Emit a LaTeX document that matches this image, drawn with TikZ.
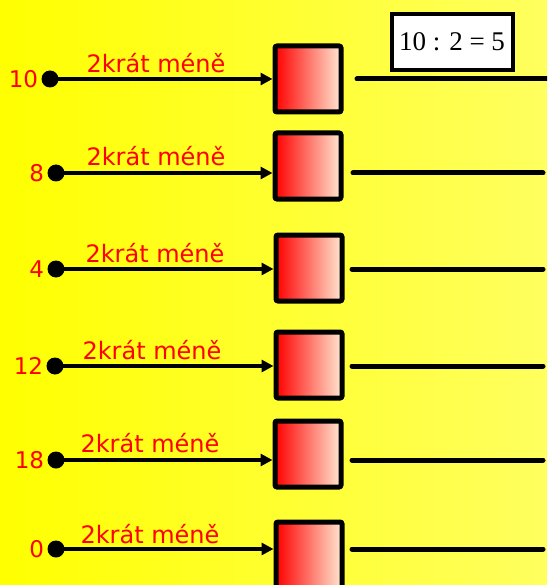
\documentclass[tikz,border=0pt]{standalone}
\usepackage{fontspec}
\setmainfont{DejaVu Sans}
\newfontfamily\eqfont{Liberation Serif}
\usetikzlibrary{arrows.meta}
\definecolor{bgright}{RGB}{255,255,95}
\definecolor{peach}{RGB}{255,232,210}
\definecolor{lblred}{RGB}{255,0,0}
\tikzset{
  dotnode/.style={circle,fill=black,inner sep=0pt,minimum size=17pt},
  numlbl/.style={text=lblred,font=\fontsize{23}{23}\selectfont,inner sep=0pt},
  opbox/.style={draw=black,line width=5pt,rounded corners=2pt,minimum width=66pt,minimum height=66pt,
    inner sep=0pt,left color=red,right color=peach},
  arrowline/.style={line width=4pt,-{Triangle[length=12pt,width=12pt]}},
  oplbl/.style={text=lblred,font=\fontsize{24}{24}\selectfont,inner sep=0pt,anchor=base},
  ansline/.style={line width=5pt,line cap=round},
  eqbox/.style={draw=black,fill=white,line width=4pt,minimum width=121pt,minimum height=56pt,inner sep=0pt,
    font=\eqfont\fontsize{27}{27}\selectfont}
}
\begin{document}
\begin{tikzpicture}[x=1pt,y=-1pt]
\useasboundingbox (0,0) rectangle (547,585);
\shade[left color=yellow,right color=bgright] (0,0) rectangle (547,585);
\clip (0,0) rectangle (547,585);
\foreach \i/\num/\dx/\y/\bx/\by/\lx/\ly/\sx/\ex in {
  1/10/50/79/308/79/156/73/357/547,
  2/8/56/173/308/166/156/166/353/543,
  3/4/56/269/309/268/155/262/352/543,
  4/12/55/366/309/365/152/359/352/543,
  5/18/56/460/308/454/150/452/352/543,
  6/0/56/549/309/555/150/543/352/543}{
  \node[dotnode] (d\i) at (\dx,\y) {};
  \node[numlbl,anchor=east] (n\i) at ([xshift=-3pt]d\i.west) {\num};
  \node[opbox] (b\i) at (\bx,\by) {};
  \coordinate (t\i) at (b\i.west |- d\i);
  \draw[arrowline] (d\i.center) -- (t\i);
  \node[oplbl] (l\i) at (\lx,\ly) {2krát méně};
  \coordinate (s\i) at (\sx,\y);
  \coordinate (e\i) at (\ex,\y);
  \draw[ansline] (s\i) -- (e\i);
}
\node[eqbox] (eq) at (452,42) {10 : 2 = 5};
\end{tikzpicture}
\end{document}
